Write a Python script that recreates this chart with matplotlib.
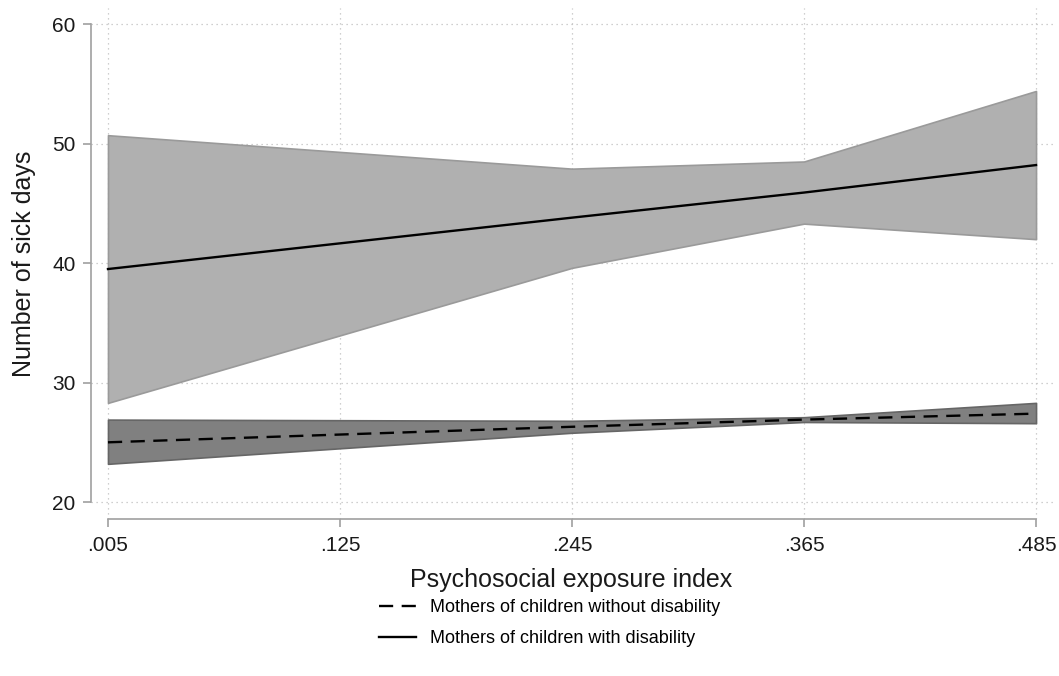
import matplotlib.pyplot as plt
import numpy as np

plt.rcParams['font.family'] = ['Liberation Sans', 'DejaVu Sans']

# exposure index values
x = [0.005, 0.245, 0.365, 0.485]
xticks = [0.005, 0.125, 0.245, 0.365, 0.485]
xticklabels = ['.005', '.125', '.245', '.365', '.485']

# mothers of children with disability
with_fit = [39.5, 43.8, 45.9, 48.2]
with_hi = [50.7, 47.9, 48.5, 54.4]
with_lo = [28.3, 39.6, 43.3, 42.0]

# mothers of children without disability
without_fit = [25.0, 26.3, 26.9, 27.4]
without_hi = [26.9, 26.8, 27.1, 28.3]
without_lo = [23.2, 25.8, 26.7, 26.6]

fig = plt.figure(figsize=(10.59, 6.76), dpi=100)
ax = fig.add_axes([0.0859, 0.2322, 0.9103, 0.7559])

ax.fill_between(x, with_lo, with_hi, facecolor='#b0b0b0', edgecolor='#9a9a9a', linewidth=1.2, zorder=2)
ax.fill_between(x, without_lo, without_hi, facecolor='#808080', edgecolor='#666666', linewidth=1.2, zorder=2)
l1, = ax.plot(x, without_fit, color='black', linestyle=(0, (6, 3.6)), linewidth=1.7, zorder=3)
l2, = ax.plot(x, with_fit, color='black', linewidth=1.7, zorder=3)

ax.set_xlim(-0.0038, 0.4948)
ax.set_ylim(18.58, 61.34)
ax.set_xticks(xticks)
ax.set_xticklabels(xticklabels)
ax.set_yticks([20, 30, 40, 50, 60])

ax.grid(True, linestyle=(0, (1, 3)), color='#c0c0c0', linewidth=0.9, zorder=0)

for s in ['top', 'right']:
    ax.spines[s].set_visible(False)
ax.spines['left'].set_bounds(20, 60)
ax.spines['bottom'].set_bounds(0.005, 0.485)
for s in ['left', 'bottom']:
    ax.spines[s].set_color('#a0a0a0')
    ax.spines[s].set_linewidth(1.2)
ax.tick_params(axis='both', colors='#a0a0a0', labelcolor='#1a1a1a', labelsize=15,
               length=6, width=1.2)
ax.tick_params(axis='y', pad=5)
ax.tick_params(axis='x', pad=6)

ax.set_ylabel('Number of sick days', fontsize=18, color='#1a1a1a', va='center')
ax.yaxis.set_label_coords(-0.0695, 0.5)
ax.set_xlabel('Psychosocial exposure index', fontsize=18, color='#1a1a1a', va='center')
ax.xaxis.set_label_coords(0.4979, -0.1195)

fig.legend([l1, l2], ['Mothers of children without disability', 'Mothers of children with disability'],
           loc='center', bbox_to_anchor=(0.519, 0.078), frameon=False, fontsize=13,
           handlelength=2.05, handletextpad=0.8, labelspacing=0.8)

fig.savefig('out.png', dpi=100)
